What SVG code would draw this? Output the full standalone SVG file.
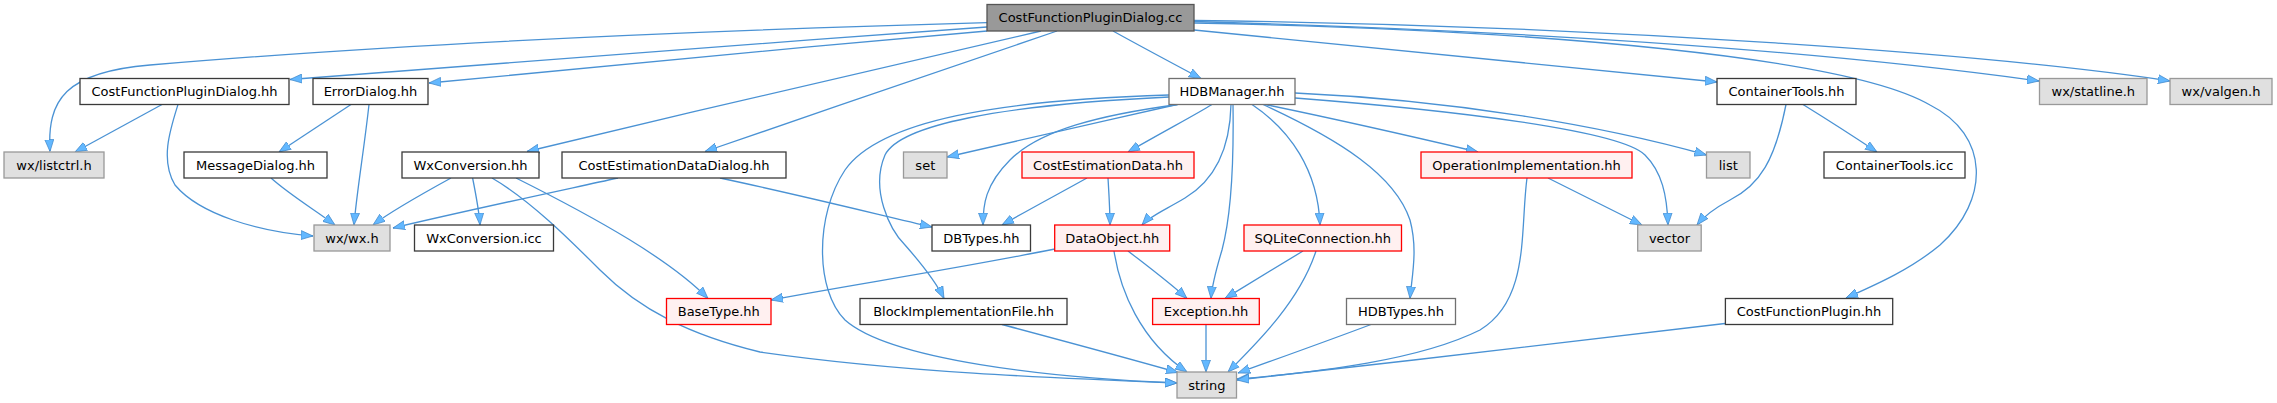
<svg xmlns="http://www.w3.org/2000/svg" width="2277" height="403" viewBox="0 0 2277 403">
<style>
.n rect{fill:#ffffff;stroke:#3a3a3a;stroke-width:1.3}
.m rect{fill:#ffffff;stroke:#707070;stroke-width:1.3}
.g rect{fill:#e0e0e0;stroke:#999999;stroke-width:1.3}
.r rect{fill:#fff0f0;stroke:#ff0000;stroke-width:1.3}
.root rect{fill:#999999;stroke:#555555;stroke-width:1.3}
text{font-family:"DejaVu Sans","Liberation Sans",sans-serif;font-size:13px;fill:#000000;text-anchor:middle}
#edges path{fill:none;stroke:#4a92d4;stroke-width:1.3;marker-end:url(#ah)}
</style>
<defs>
<marker id="ah" viewBox="0 0 12 10" refX="12" refY="5" markerWidth="12" markerHeight="10" markerUnits="userSpaceOnUse" orient="auto">
<path d="M0,0.5 L12,5 L0,9.5 Z" fill="#63b8ff" stroke="#3f86c8" stroke-width="0.7"/>
</marker>
</defs>
<rect x="0" y="0" width="2277" height="403" fill="#ffffff"/>
<g id="edges">
<path d="M987,22.7 C760,29 420,42 150,65 C65,72 47,100 50,151.5"/>
<path d="M987,27 C750,44 500,63 290,79.5"/>
<path d="M987,31 C800,47 600,67 429,83"/>
<path d="M1041,31 C900,63 700,110 527,151.5"/>
<path d="M1057,31 C960,64 820,112 705,151.5"/>
<path d="M1113,31 C1140,46 1170,62 1201,78.5"/>
<path d="M1194,30 C1400,50 1580,68 1717,82"/>
<path d="M1194,21.5 C1500,30 1800,48 2039,81"/>
<path d="M1194,20.5 C1600,25 2000,55 2170,81"/>
<path d="M1194,23 C1550,30 1850,58 1930,105 C1990,135 1990,200 1940,245 C1910,270 1875,285 1846,298"/>
<path d="M162,104.5 L75,152"/>
<path d="M178,104.5 C170,130 160,160 175,185 C200,215 260,232 313,236"/>
<path d="M351,104.5 L279,152"/>
<path d="M369,104.5 C364,150 357,190 354,225"/>
<path d="M271,178 C290,195 315,210 335,225"/>
<path d="M451,178 C420,195 390,212 373,225"/>
<path d="M472.6,178 C476,195 479,210 480,225"/>
<path d="M516,178 C600,220 670,260 708,298.5"/>
<path d="M492,178 C530,200 570,240 600,270 C640,310 690,335 760,352 C900,372 1050,378 1177,383"/>
<path d="M618,178 C540,195 460,212 393,228"/>
<path d="M720,178 C800,195 880,215 932,227"/>
<path d="M1177,104.5 C1100,122 1020,140 947,157"/>
<path d="M1212,104.5 C1195,115 1170,128 1128,152"/>
<path d="M1178,104.5 C1100,115 1040,130 1010,160 C985,185 983,205 983,225"/>
<path d="M1231,104.5 C1230,150 1215,180 1185,198 C1165,210 1150,216 1142,225"/>
<path d="M1233,104.5 C1234,170 1230,220 1222,250 C1216,270 1212,285 1211,298.5"/>
<path d="M1252,104.5 C1290,130 1318,170 1320,225"/>
<path d="M1263,104.5 C1340,140 1395,175 1410,220 C1418,250 1412,275 1410,298.5"/>
<path d="M1265,104.5 C1340,120 1410,136 1478,152"/>
<path d="M1295,93 C1450,100 1600,125 1706.5,155"/>
<path d="M1295,98 C1450,110 1620,130 1645,155 C1662,172 1667,195 1668,225"/>
<path d="M1169,95 C1000,100 880,120 845,170 C815,215 815,290 845,320 C890,360 1050,378 1177,383"/>
<path d="M1169,97 C1000,105 900,125 885,155 C870,190 890,230 905,245 C920,262 935,280 944,298.5"/>
<path d="M1087,178 C1060,193 1030,209 1002,225"/>
<path d="M1108,178 C1109,195 1110,210 1110,225"/>
<path d="M1055,249 C950,270 850,285 771,300"/>
<path d="M1128,251 C1150,268 1170,283 1187,298.5"/>
<path d="M1114,251 C1120,290 1140,340 1187,372"/>
<path d="M1303,251 C1275,268 1250,283 1225,298.5"/>
<path d="M1316,251 C1300,300 1260,340 1228,372"/>
<path d="M1206,324.5 L1206,372"/>
<path d="M1002,324.5 C1060,340 1120,356 1178,372.5"/>
<path d="M1371,324.5 C1330,340 1285,356 1238,373"/>
<path d="M1527,178 C1520,230 1530,300 1480,330 C1420,360 1320,372 1237,379"/>
<path d="M1725,323.5 C1560,343 1400,362 1237,380"/>
<path d="M1548,178 C1580,194 1610,209 1642,225"/>
<path d="M1786,104.5 C1775,160 1760,185 1730,200 C1715,208 1705,215 1697,225"/>
<path d="M1803,104.5 C1828,120 1853,136 1877,152"/>
</g>
<g id="n_root" class="root"><rect x="987" y="4.5" width="207" height="26.5"/><text x="1090.5" y="22.3">CostFunctionPluginDialog.cc</text></g>
<g id="n_cfpdhh" class="n"><rect x="80" y="78.5" width="209" height="26"/><text x="184.5" y="96">CostFunctionPluginDialog.hh</text></g>
<g id="n_errordialog" class="n"><rect x="313" y="78.5" width="115" height="26"/><text x="370.5" y="96">ErrorDialog.hh</text></g>
<g id="n_hdbmanager" class="m"><rect x="1169" y="78.5" width="126" height="26"/><text x="1232" y="96">HDBManager.hh</text></g>
<g id="n_containertools" class="n"><rect x="1717" y="78.5" width="139" height="26"/><text x="1786.5" y="96">ContainerTools.hh</text></g>
<g id="n_statline" class="g"><rect x="2039.5" y="78.5" width="107.5" height="26"/><text x="2093.3" y="96">wx/statline.h</text></g>
<g id="n_valgen" class="g"><rect x="2170" y="78.5" width="102" height="26"/><text x="2221" y="96">wx/valgen.h</text></g>
<g id="n_listctrl" class="g"><rect x="4" y="152" width="100" height="26"/><text x="54" y="169.5">wx/listctrl.h</text></g>
<g id="n_messagedialog" class="n"><rect x="184" y="152" width="143" height="26"/><text x="255.5" y="169.5">MessageDialog.hh</text></g>
<g id="n_wxconversion" class="n"><rect x="402" y="152" width="137" height="26"/><text x="470.5" y="169.5">WxConversion.hh</text></g>
<g id="n_cedd" class="n"><rect x="562" y="152" width="224" height="26"/><text x="674" y="169.5">CostEstimationDataDialog.hh</text></g>
<g id="n_set" class="g"><rect x="903.5" y="152" width="43.5" height="26"/><text x="925.3" y="169.5">set</text></g>
<g id="n_ced" class="r"><rect x="1022" y="152" width="172" height="26"/><text x="1108" y="169.5">CostEstimationData.hh</text></g>
<g id="n_opimpl" class="r"><rect x="1421" y="152" width="211" height="26"/><text x="1526.5" y="169.5">OperationImplementation.hh</text></g>
<g id="n_list" class="g"><rect x="1706.5" y="152" width="43.5" height="26"/><text x="1728.3" y="169.5">list</text></g>
<g id="n_containertoolsicc" class="n"><rect x="1824" y="152" width="141" height="26"/><text x="1894.5" y="169.5">ContainerTools.icc</text></g>
<g id="n_wxwx" class="g"><rect x="314" y="225" width="76" height="26"/><text x="352" y="242.5">wx/wx.h</text></g>
<g id="n_wxconvicc" class="n"><rect x="414.5" y="225" width="139" height="26"/><text x="484" y="242.5">WxConversion.icc</text></g>
<g id="n_dbtypes" class="n"><rect x="932" y="225" width="98.5" height="26"/><text x="981.3" y="242.5">DBTypes.hh</text></g>
<g id="n_dataobject" class="r"><rect x="1054.7" y="225" width="115" height="26"/><text x="1112.2" y="242.5">DataObject.hh</text></g>
<g id="n_sqlite" class="r"><rect x="1244" y="225" width="157.5" height="26"/><text x="1322.8" y="242.5">SQLiteConnection.hh</text></g>
<g id="n_vector" class="g"><rect x="1637.7" y="225" width="63.5" height="26"/><text x="1669.5" y="242.5">vector</text></g>
<g id="n_basetype" class="r"><rect x="666.5" y="298.5" width="104.5" height="26"/><text x="718.8" y="316">BaseType.hh</text></g>
<g id="n_blockimpl" class="n"><rect x="860" y="298.5" width="207" height="26"/><text x="963.5" y="316">BlockImplementationFile.hh</text></g>
<g id="n_exception" class="r"><rect x="1152.6" y="298.5" width="106.7" height="26"/><text x="1206" y="316">Exception.hh</text></g>
<g id="n_hdbtypes" class="m"><rect x="1346.5" y="298.5" width="109" height="26"/><text x="1401" y="316">HDBTypes.hh</text></g>
<g id="n_cfplugin" class="n"><rect x="1725.4" y="298.5" width="167.3" height="26"/><text x="1809" y="316">CostFunctionPlugin.hh</text></g>
<g id="n_string" class="g"><rect x="1177" y="372" width="59.5" height="26"/><text x="1206.8" y="389.5">string</text></g>
</svg>
